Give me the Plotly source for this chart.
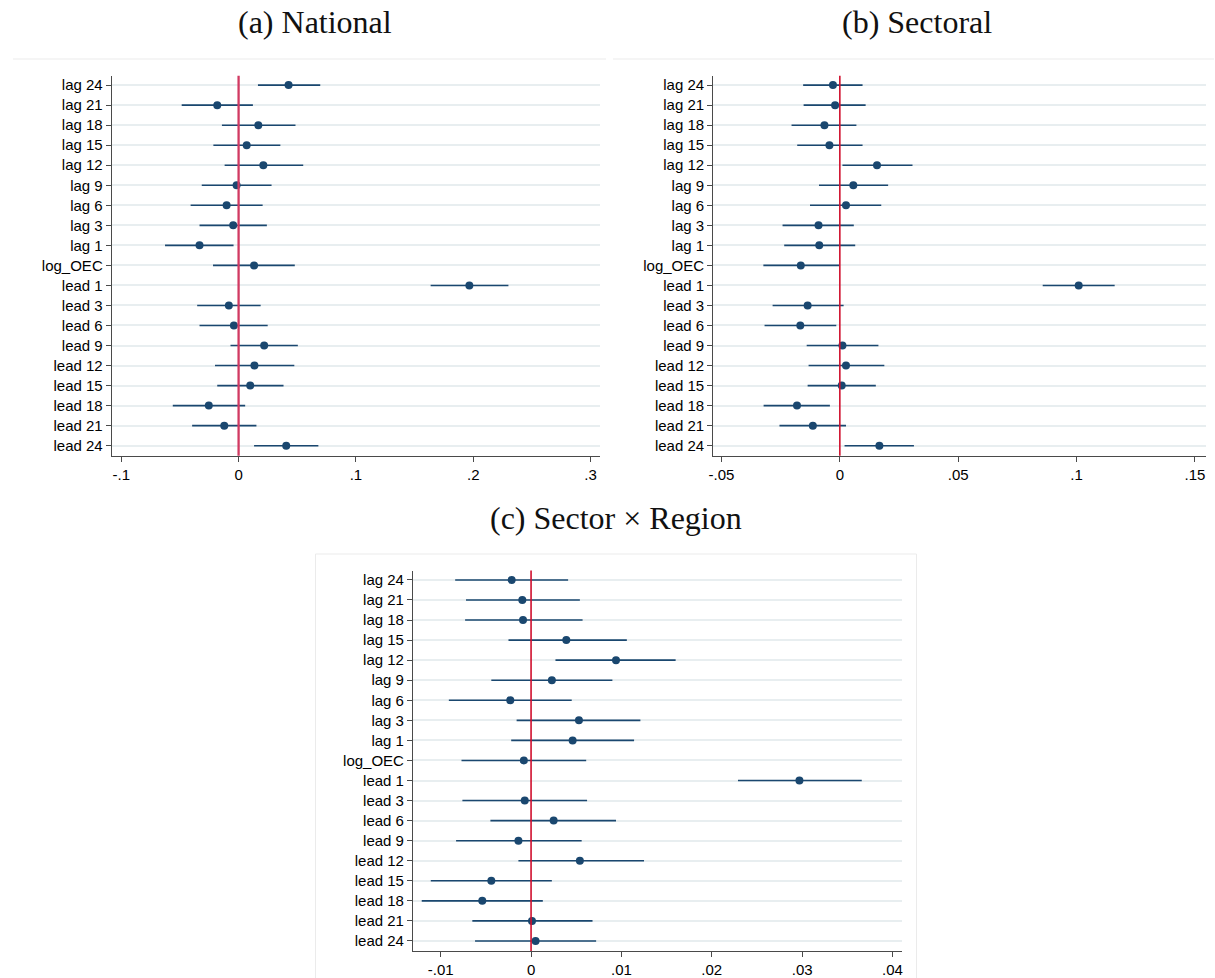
import plotly.graph_objects as go

# Coefficient labels, top to bottom
terms = ["lag 24", "lag 21", "lag 18", "lag 15", "lag 12", "lag 9", "lag 6", "lag 3",
         "lag 1", "log_OEC", "lead 1", "lead 3", "lead 6", "lead 9", "lead 12",
         "lead 15", "lead 18", "lead 21", "lead 24"]

# (a) National: point estimates and 95% CI bounds
nat_est = [0.0426, -0.0182, 0.0168, 0.0069, 0.0211, -0.0017, -0.0102, -0.0046, -0.0333,
           0.0132, 0.1967, -0.0083, -0.0040, 0.0218, 0.0135, 0.0099, -0.0254, -0.0122, 0.0406]
nat_lo = [0.0165, -0.0485, -0.0142, -0.0215, -0.0119, -0.0314, -0.0409, -0.0333, -0.0627,
          -0.0218, 0.1637, -0.0353, -0.0333, -0.0069, -0.0201, -0.0182, -0.0561, -0.0396, 0.0132]
nat_hi = [0.0696, 0.0122, 0.0485, 0.0356, 0.0551, 0.0281, 0.0205, 0.0241, -0.0043,
          0.0479, 0.2300, 0.0188, 0.0248, 0.0505, 0.0475, 0.0383, 0.0056, 0.0152, 0.0680]

# (b) Sectoral
sec_est = [-0.0029, -0.0020, -0.0065, -0.0044, 0.0157, 0.0057, 0.0026, -0.0090, -0.0087,
           -0.0165, 0.1009, -0.0136, -0.0167, 0.0011, 0.0026, 0.0008, -0.0181, -0.0114, 0.0167]
sec_lo = [-0.0155, -0.0153, -0.0204, -0.0180, 0.0011, -0.0088, -0.0126, -0.0242, -0.0235,
          -0.0323, 0.0857, -0.0284, -0.0318, -0.0140, -0.0132, -0.0136, -0.0322, -0.0255, 0.0020]
sec_hi = [0.0096, 0.0109, 0.0070, 0.0096, 0.0307, 0.0204, 0.0175, 0.0059, 0.0065,
          -0.0002, 0.1161, 0.0016, -0.0015, 0.0163, 0.0188, 0.0152, -0.0042, 0.0026, 0.0313]

# (c) Sector x Region
reg_est = [-0.00215, -0.00097, -0.00089, 0.0039, 0.0094, 0.0023, -0.0023, 0.0053, 0.0046,
           -0.0008, 0.0297, -0.0007, 0.0025, -0.0014, 0.0054, -0.0044, -0.0054, 0.0001, 0.0005]
reg_lo = [-0.0084, -0.0072, -0.0073, -0.0025, 0.0027, -0.0044, -0.0091, -0.0016, -0.0022,
          -0.0077, 0.0229, -0.0076, -0.0045, -0.0083, -0.0014, -0.0111, -0.0121, -0.0065, -0.0062]
reg_hi = [0.0041, 0.0054, 0.0057, 0.0106, 0.0160, 0.0090, 0.0045, 0.0121, 0.0114,
          0.0061, 0.0366, 0.0062, 0.0094, 0.0056, 0.0125, 0.0023, 0.0013, 0.0068, 0.0072]

# x-axis ticks per panel
nat_ticks = [-0.1, 0, 0.1, 0.2, 0.3]
nat_ticktext = ["-.1", "0", ".1", ".2", ".3"]
sec_ticks = [-0.05, 0, 0.05, 0.1, 0.15]
sec_ticktext = ["-.05", "0", ".05", ".1", ".15"]
reg_ticks = [-0.01, 0, 0.01, 0.02, 0.03, 0.04]
reg_ticktext = ["-.01", "0", ".01", ".02", ".03", ".04"]

titles = ["(a) National", "(b) Sectoral", "(c) Sector \u00d7 Region"]

W, H = 1215, 978
NAVY = "#1a476f"
GRID = "#e8eef0"
AXIS = "#4a4a4a"


def px_x(v):
    return v / W


def px_y(v):
    return 1 - v / H


panels = [
    dict(est=nat_est, lo=nat_lo, hi=nat_hi, ticks=nat_ticks, ticktext=nat_ticktext,
         xdom=(107.3, 598), ydom=(75.7, 455.7), xrange=(-0.1081, 0.3081),
         zero_color="#d13a62", zero_w=2.3),
    dict(est=sec_est, lo=sec_lo, hi=sec_hi, ticks=sec_ticks, ticktext=sec_ticktext,
         xdom=(711.7, 1207), ydom=(75.7, 455.7), xrange=(-0.0535, 0.1547),
         zero_color="#d0102e", zero_w=1.6),
    dict(est=reg_est, lo=reg_lo, hi=reg_hi, ticks=reg_ticks, ticktext=reg_ticktext,
         xdom=(410, 901.7), ydom=(570.5, 951), xrange=(-0.01307, 0.04108),
         zero_color="#d0102e", zero_w=1.6),
]

fig = go.Figure()
shapes = []

for i, p in enumerate(panels, start=1):
    xa = "x" if i == 1 else f"x{i}"
    ya = "y" if i == 1 else f"y{i}"
    plus = [h - e for h, e in zip(p["hi"], p["est"])]
    minus = [e - l for e, l in zip(p["est"], p["lo"])]
    fig.add_trace(go.Scatter(
        x=p["est"], y=terms, mode="markers", xaxis=xa, yaxis=ya,
        marker=dict(color=NAVY, size=8, line=dict(width=0)),
        error_x=dict(type="data", symmetric=False, array=plus, arrayminus=minus,
                     color=NAVY, thickness=1.6, width=0),
        showlegend=False, hoverinfo="skip",
    ))
    axis_common = dict(showline=True, linecolor=AXIS, linewidth=1.1, ticks="outside",
                       ticklen=5, tickcolor=AXIS, tickwidth=1,
                       tickfont=dict(family="Liberation Sans, Arial", size=15, color="#000"),
                       zeroline=False)
    fig.layout[("xaxis" if i == 1 else f"xaxis{i}")] = dict(
        domain=[px_x(p["xdom"][0]), px_x(p["xdom"][1])], range=list(p["xrange"]),
        anchor=ya, tickvals=p["ticks"], ticktext=p["ticktext"], showgrid=False,
        **axis_common)
    fig.layout[("yaxis" if i == 1 else f"yaxis{i}")] = dict(
        domain=[px_y(p["ydom"][1]), px_y(p["ydom"][0])], range=[18.5, -0.47],
        anchor=xa, type="category", categoryorder="array", categoryarray=terms,
        showgrid=True, gridcolor=GRID, gridwidth=1.6, **axis_common)
    # reference line at zero
    shapes.append(dict(type="line", xref=xa, yref=f"{ya} domain", x0=0, x1=0, y0=0, y1=1,
                       line=dict(color=p["zero_color"], width=p["zero_w"]), layer="above"))

# light graph-region borders
BORDER = "#ebebeb"
for x0, x1, yy in [(8, 604, 59), (611, 1215, 59), (312, 916, 554)]:
    shapes.append(dict(type="line", xref="paper", yref="paper", x0=px_x(x0), x1=px_x(x1),
                       y0=px_y(yy), y1=px_y(yy), line=dict(color=BORDER, width=1)))
for xx in (312, 916):
    shapes.append(dict(type="line", xref="paper", yref="paper", x0=px_x(xx), x1=px_x(xx),
                       y0=px_y(554), y1=0, line=dict(color=BORDER, width=1)))

annotations = []
for text, cx, cy in zip(titles, (312, 917, 614), (22, 22, 518)):
    annotations.append(dict(text=text, xref="paper", yref="paper", x=px_x(cx), y=px_y(cy),
                            xanchor="center", yanchor="middle", showarrow=False,
                            font=dict(family="Liberation Serif, Times New Roman, serif",
                                      size=32, color="#111")))

fig.update_layout(width=W, height=H, margin=dict(l=0, r=0, t=0, b=0),
                  paper_bgcolor="white", plot_bgcolor="white",
                  shapes=shapes, annotations=annotations)

fig.write_html("out.html")
